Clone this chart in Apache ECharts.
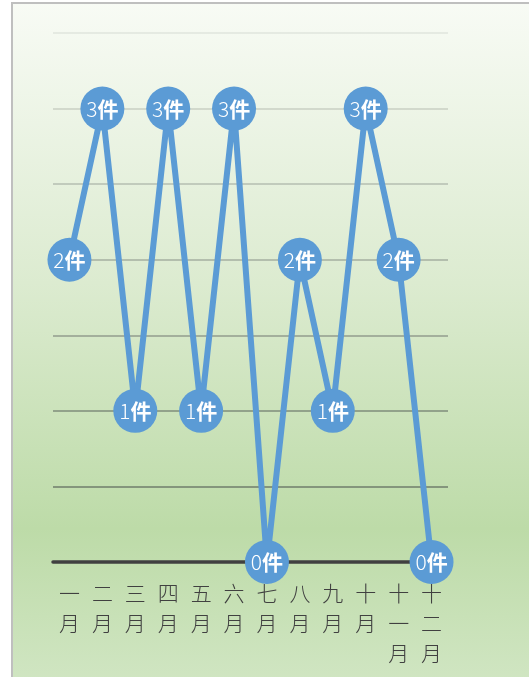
<!DOCTYPE html>
<html>
<head>
<meta charset="utf-8">
<script src="https://cdn.jsdelivr.net/npm/echarts@6/dist/echarts.min.js"></script>
<style>
html,body{margin:0;padding:0;background:#fff;}
#c{width:529px;height:677px;}
</style>
</head>
<body>
<div id="c"></div>
<script>
var categories = ['一月','二月','三月','四月','五月','六月','七月','八月','九月','十月','十一月','十二月'];
var values = [2, 3, 1, 3, 1, 3, 0, 2, 1, 3, 2, 0];
var unit = '件';

var chart = echarts.init(document.getElementById('c'));
chart.setOption({
  animation: false,
  graphic: [{
    type: 'rect',
    z: -100,
    silent: true,
    shape: {x: 12, y: 3, width: 540, height: 700},
    style: {
      stroke: '#bfbfbf',
      lineWidth: 2,
      fill: new echarts.graphic.LinearGradient(0, 0, 0, 1, [
        {offset: 0, color: '#f8fbf5'},
        {offset: 0.4, color: '#dcebd0'},
        {offset: 0.75, color: '#bddba8'},
        {offset: 1, color: '#d3e7c6'}
      ])
    }
  }],
  grid: {left: 53, right: 81, top: 33, bottom: 115},
  xAxis: {
    type: 'category',
    data: categories,
    boundaryGap: true,
    axisLine: {show: true, lineStyle: {color: '#404040', width: 3.5}},
    axisTick: {show: false},
    axisLabel: {
      interval: 0,
      margin: 16,
      color: '#404040',
      fontSize: 21,
      lineHeight: 30,
      fontFamily: 'Noto Sans CJK SC',
      fontWeight: 300,
      formatter: function (v) { return v.split('').join('\n'); }
    }
  },
  yAxis: {
    type: 'value',
    min: 0,
    max: 3.5,
    interval: 0.5,
    axisLabel: {show: false},
    axisLine: {show: false},
    axisTick: {show: false},
    splitLine: {
      lineStyle: {
        width: 1.5,
        color: ['#404040', '#6f7d6b', '#7f8c7b', '#929d8e', '#a5afa1', '#b5beb1', '#c8cfc3', '#dfe5dc']
      }
    }
  },
  series: [{
    type: 'line',
    data: values,
    lineStyle: {color: '#5b9bd5', width: 6},
    itemStyle: {color: '#5b9bd5'},
    symbol: 'circle',
    symbolSize: 44,
    showAllSymbol: true,
    label: {
      show: true,
      position: 'inside',
      formatter: function (p) { return '{n|' + p.value + '}{u|' + unit + '}'; },
      rich: {
        n: {color: '#fff', fontSize: 21, fontFamily: 'Noto Sans CJK SC', fontWeight: 300},
        u: {color: '#fff', fontSize: 21, fontFamily: 'Noto Sans CJK SC', fontWeight: 'bold'}
      }
    }
  }]
});
</script>
</body>
</html>
